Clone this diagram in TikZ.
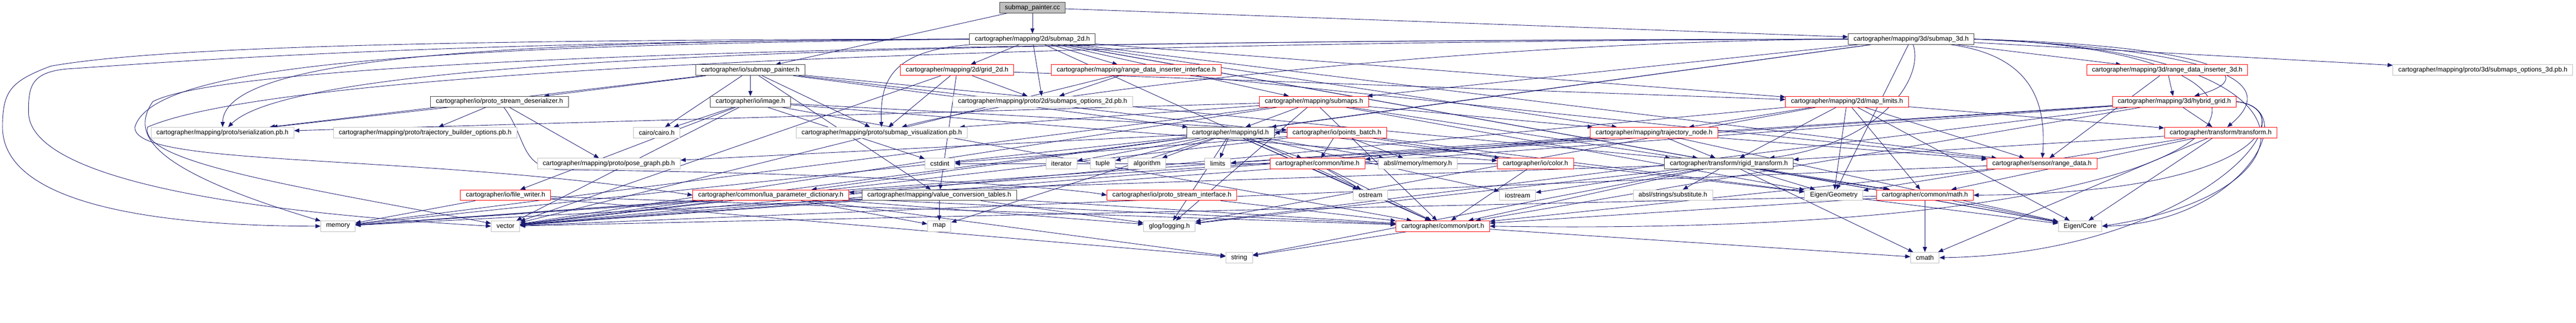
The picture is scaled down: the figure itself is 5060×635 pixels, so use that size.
\documentclass[tikz,border=0pt]{standalone}
\usepackage{fontspec}
\setmainfont{Liberation Sans}
\usetikzlibrary{arrows.meta,positioning,calc,backgrounds}

\definecolor{edgeblue}{RGB}{25,25,112}
\definecolor{boxgray}{RGB}{191,191,191}

\tikzset{
  file/.style={draw=black!75, line width=1pt, fill=white, minimum height=21pt,
    inner xsep=10.5pt, inner ysep=0pt, font=\fontsize{12.9}{15}\selectfont},
  extfile/.style={file, draw=boxgray},
  redfile/.style={file, draw=red},
  rootfile/.style={file, fill=boxgray},
  dep/.style={draw=edgeblue, line width=0.9pt, -{Triangle[length=10pt,width=8pt]}}
}

\begin{document}
\begin{tikzpicture}[x=1pt, y=-1pt]
  \useasboundingbox (0,0) rectangle (5060,635);

  % Root
  \node[rootfile] (cc) at (2028,15) {submap\_painter.cc};

  % Level 1
  \node[file] (s2d) at (2028,77) {cartographer/mapping/2d/submap\_2d.h};
  \node[file] (s3d) at (3754,77) {cartographer/mapping/3d/submap\_3d.h};

  % Level 2
  \node[file] (sph) at (1474,138) {cartographer/io/submap\_painter.h};
  \node[redfile] (g2d) at (1880,138) {cartographer/mapping/2d/grid\_2d.h};
  \node[redfile] (rdii) at (2232,138) {cartographer/mapping/range\_data\_inserter\_interface.h};
  \node[redfile] (rdi3) at (4257,138) {cartographer/mapping/3d/range\_data\_inserter\_3d.h};
  \node[extfile] (so3) at (4877,138) {cartographer/mapping/proto/3d/submaps\_options\_3d.pb.h};

  % Level 3
  \node[file] (psd) at (981,200) {cartographer/io/proto\_stream\_deserializer.h};
  \node[file] (img) at (1474,200) {cartographer/io/image.h};
  \node[extfile] (so2) at (2048,200) {cartographer/mapping/proto/2d/submaps\_options\_2d.pb.h};
  \node[redfile] (smaps) at (2581,200) {cartographer/mapping/submaps.h};
  \node[redfile] (mlim) at (3628,200) {cartographer/mapping/2d/map\_limits.h};
  \node[redfile] (hyb) at (4271,200) {cartographer/mapping/3d/hybrid\_grid.h};

  % Level 4
  \node[extfile] (ser) at (437,261) {cartographer/mapping/proto/serialization.pb.h};
  \node[extfile] (tbo) at (835,261) {cartographer/mapping/proto/trajectory\_builder\_options.pb.h};
  \node[extfile] (cairo) at (1290,261) {cairo/cairo.h};
  \node[extfile] (vis) at (1732,261) {cartographer/mapping/proto/submap\_visualization.pb.h};
  \node[file] (id) at (2417,261) {cartographer/mapping/id.h};
  \node[redfile] (pb) at (2626,261) {cartographer/io/points\_batch.h};
  \node[redfile] (tn) at (3249,261) {cartographer/mapping/trajectory\_node.h};
  \node[redfile] (tf) at (4362,261) {cartographer/transform/transform.h};

  % Level 5
  \node[extfile] (pg) at (1196,322) {cartographer/mapping/proto/pose\_graph.pb.h};
  \node[extfile] (cstdint) at (1846,322) {cstdint};
  \node[extfile] (iter) at (2085,322) {iterator};
  \node[extfile] (tuple) at (2166,322) {tuple};
  \node[extfile] (algo) at (2253,322) {algorithm};
  \node[extfile] (limits) at (2392,322) {limits};
  \node[redfile] (time) at (2588,322) {cartographer/common/time.h};
  \node[extfile] (absl) at (2785,322) {absl/memory/memory.h};
  \node[redfile] (color) at (3016,322) {cartographer/io/color.h};
  \node[file] (rigid) at (3396,322) {cartographer/transform/rigid\_transform.h};
  \node[redfile] (rd) at (4011,322) {cartographer/sensor/range\_data.h};

  % Level 6
  \node[redfile] (fw) at (993,384) {cartographer/io/file\_writer.h};
  \node[redfile] (lua) at (1514,384) {cartographer/common/lua\_parameter\_dictionary.h};
  \node[file] (vct) at (1845,384) {cartographer/mapping/value\_conversion\_tables.h};
  \node[redfile] (psi) at (2302,384) {cartographer/io/proto\_stream\_interface.h};
  \node[extfile] (ostream) at (2692,384) {ostream};
  \node[extfile] (iostream) at (2981,384) {iostream};
  \node[extfile] (subst) at (3286,384) {absl/strings/substitute.h};
  \node[extfile] (eg) at (3602,384) {Eigen/Geometry};
  \node[redfile] (math) at (3781,384) {cartographer/common/math.h};

  % Level 7
  \node[extfile] (memory) at (664,445) {memory};
  \node[extfile] (vector) at (993,445) {vector};
  \node[extfile] (map) at (1845,445) {map};
  \node[extfile] (glog) at (2297,445) {glog/logging.h};
  \node[redfile] (port) at (2834,445) {cartographer/common/port.h};
  \node[extfile] (ec) at (4086,445) {Eigen/Core};

  % Level 8
  \node[extfile] (string) at (2434,507) {string};
  \node[extfile] (cmath) at (3781,507) {cmath};

  \begin{scope}[on background layer]
    % submap_painter.cc
    \foreach \dst in {s2d,sph,s3d} \draw[dep] (cc) -- (\dst);

    % submap_2d.h
    \foreach \dst in {g2d,so2,rdii,smaps,mlim,tn,rd,rigid,ec,port} \draw[dep] (s2d) -- (\dst);
    \draw[dep] (s2d.south west) .. controls (1750,100) and (1728,160) .. (vis);
    \draw[dep] (s2d.west) .. controls (1000,80) and (440,110) .. (ser);
    \draw[dep] (s2d.west) .. controls (800,78) and (300,95) .. (100,130)
      .. controls (20,160) and (5,180) .. (5,250) .. controls (5,400) and (300,445) .. (memory.west);
    \draw[dep] (s2d.west) .. controls (800,82) and (300,125) .. (140,135)
      .. controls (60,140) and (56,170) .. (56,220) .. controls (56,330) and (350,410) .. (vector.west);
    \draw[dep] (s2d.west) .. controls (800,90) and (300,130) .. (265,250)
      .. controls (260,330) and (800,300) .. (lua.west);

    % submap_3d.h
    \foreach \dst in {rdi3,so3,smaps,id,lua,eg} \draw[dep] (s3d) -- (\dst);
    \draw[dep] (s3d.west) .. controls (2000,80) and (600,100) .. (ser);
    \draw[dep] (s3d.west) .. controls (2800,82) and (1950,200) .. (vis);
    \draw[dep] (s3d.west) .. controls (2500,78) and (500,95) .. (300,200)
      .. controls (260,260) and (280,330) .. (memory);
    \draw[dep] (s3d.west) .. controls (2500,80) and (600,115) .. (290,250)
      .. controls (270,320) and (600,370) .. (vector);
    \draw[dep] (s3d) .. controls (3780,150) and (3700,280) .. (rigid);
    \draw[dep] (s3d) .. controls (3990,110) and (4020,200) .. (rd);
    \draw[dep] (s3d.east) .. controls (4350,90) and (4450,150) .. (hyb);
    \draw[dep] (s3d.east) .. controls (4400,100) and (4470,170) .. (tf);
    \draw[dep] (s3d.east) .. controls (4600,100) and (4560,380) .. (ec.east);
    \draw[dep] (s3d.east) .. controls (4650,100) and (4550,470) .. (port.east);

    % io/submap_painter.h
    \foreach \dst in {cairo,img,id,ser,vis,vct,rigid,psd,eg} \draw[dep] (sph) -- (\dst);

    % grid_2d.h and range_data_inserter_interface.h
    \foreach \dst in {vis,so2,mlim,vct,vector} \draw[dep] (g2d) -- (\dst);
    \foreach \dst in {so2,rd,vector} \draw[dep] (rdii) -- (\dst);

    % proto_stream_deserializer.h
    \foreach \dst in {tbo,pg,ser} \draw[dep] (psd) -- (\dst);
    \draw[dep] (psd) .. controls (1035,270) and (1020,330) .. (1100,334)
      .. controls (1700,340) and (2100,370) .. (psi.west);

    % image.h
    \foreach \dst in {cairo,cstdint,vector,color,fw,pb,port} \draw[dep] (img) -- (\dst);

    % submaps.h and map_limits.h
    \foreach \dst in {memory,vector,eg,math,port,id,ser,vis,tn,glog} \draw[dep] (smaps) -- (\dst);
    \foreach \dst in {rigid,ec,eg,math,tn,rd,tf,glog,vector} \draw[dep] (mlim) -- (\dst);

    % 3d grids and transform.h
    \foreach \dst in {hyb,rd} \draw[dep] (rdi3) -- (\dst);
    \foreach \dst in {tf,limits,vector,memory,glog,port} \draw[dep] (hyb) -- (\dst);
    \draw[dep] (hyb.east) .. controls (4500,210) and (4480,380) .. (math.east);
    \draw[dep] (hyb.east) .. controls (4530,215) and (4400,440) .. (ec.east);
    \draw[dep] (hyb.east) .. controls (4560,220) and (4300,500) .. (cmath.east);
    \foreach \dst in {rigid,ec,eg,math,cmath} \draw[dep] (tf) -- (\dst);

    % id.h, points_batch.h, trajectory_node.h
    \foreach \dst in {algo,iostream,iter,limits,map,memory,ostream,tuple,vector,absl,time,port,glog,pg}
      \draw[dep] (id) -- (\dst);
    \foreach \dst in {cstdint,vector,time,color,id,ec,absl} \draw[dep] (pb) -- (\dst);
    \foreach \dst in {memory,vector,ec,time,rd,rigid} \draw[dep] (tn) -- (\dst);

    % common and transform headers
    \foreach \dst in {ostream,port} \draw[dep] (time) -- (\dst);
    \foreach \dst in {port,cstdint} \draw[dep] (color) -- (\dst);
    \foreach \dst in {cmath,iostream,string,ec,eg,subst,lua,math,port,glog} \draw[dep] (rigid) -- (\dst);
    \foreach \dst in {port,vector} \draw[dep] (rd) -- (\dst);
    \foreach \dst in {cmath,ec,port,vector} \draw[dep] (math) -- (\dst);
    \foreach \dst in {map,memory,string,vector,port,glog} \draw[dep] (lua) -- (\dst);
    \foreach \dst in {map,vector,memory,port,glog} \draw[dep] (vct) -- (\dst);
    \foreach \dst in {port,memory,string} \draw[dep] (fw) -- (\dst);
    \draw[dep] (psi) -- (port);
    \foreach \dst in {cmath,string} \draw[dep] (port) -- (\dst);
  \end{scope}
\end{tikzpicture}
\end{document}
